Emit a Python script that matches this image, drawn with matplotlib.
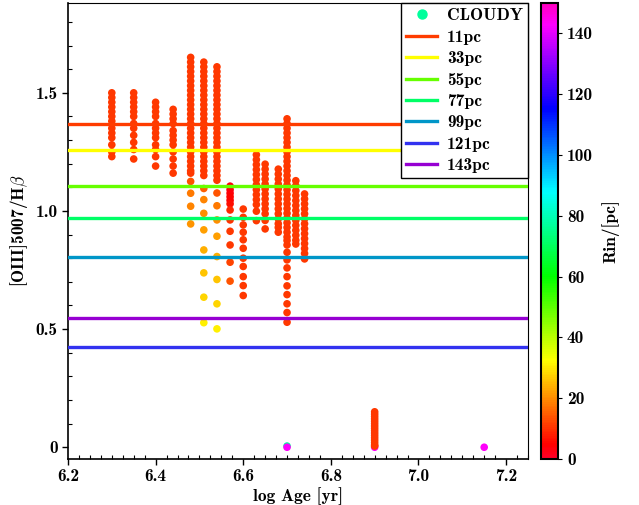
import matplotlib
matplotlib.use("Agg")
import matplotlib.pyplot as plt
from matplotlib.lines import Line2D
from matplotlib.ticker import MultipleLocator, FixedLocator, FixedFormatter
import numpy as np

plt.rcParams['font.family'] = ['cmb10', 'DejaVu Serif']
plt.rcParams['mathtext.fontset'] = 'cm'
plt.rcParams['axes.unicode_minus'] = False

# model columns: log age, [OIII]/Hb ratio, Rin (pc)
age_630_y = [1.50, 1.48, 1.46, 1.44, 1.42, 1.40, 1.38, 1.35, 1.33, 1.31, 1.28, 1.25, 1.23]
age_635_y = [1.50, 1.48, 1.46, 1.44, 1.42, 1.40, 1.37, 1.35, 1.32, 1.29, 1.26, 1.22]
age_640_y = [1.46, 1.44, 1.42, 1.40, 1.37, 1.35, 1.33, 1.31, 1.28, 1.26, 1.23, 1.19]
age_644_y = [1.43, 1.41, 1.39, 1.37, 1.34, 1.32, 1.30, 1.28, 1.25, 1.22, 1.19, 1.16]
age_648_y = [1.65, 1.63, 1.61, 1.59, 1.57, 1.55, 1.53, 1.51, 1.49, 1.47, 1.45, 1.43, 1.41,
             1.39, 1.37, 1.35, 1.33, 1.31, 1.29, 1.27, 1.25, 1.23, 1.21, 1.19, 1.17, 1.16,
             1.125, 1.075, 1.02, 0.945]
age_648_r = [11] * 26 + [14, 18, 19, 21]
age_651_y = [1.63, 1.61, 1.59, 1.57, 1.55, 1.53, 1.51, 1.49, 1.47, 1.45, 1.43, 1.41, 1.39,
             1.37, 1.35, 1.33, 1.31, 1.29, 1.27, 1.25, 1.23, 1.21, 1.19, 1.17, 1.15,
             1.095, 1.048, 0.99, 0.92, 0.835, 0.738, 0.635, 0.527]
age_651_r = [11] * 25 + [15, 19, 20, 22, 24, 26, 28, 31]
age_654_y = [1.61, 1.59, 1.57, 1.55, 1.53, 1.51, 1.49, 1.47, 1.45, 1.43, 1.41, 1.39, 1.37,
             1.35, 1.33, 1.31, 1.29, 1.27, 1.25, 1.23, 1.21, 1.19, 1.17, 1.15, 1.13,
             1.076, 1.022, 0.962, 0.893, 0.807, 0.71, 0.607, 0.501]
age_654_r = [11] * 25 + [14, 18, 20, 22, 24, 26, 28, 31]
age_657_y = [1.105, 1.09, 1.075, 1.06, 1.045, 1.03, 1.004, 0.962, 0.914, 0.856, 0.783, 0.703]
age_657_r = [4, 4, 4, 5, 5, 6, 9, 10, 11, 11, 12, 14]
age_660_y = [1.008, 0.973, 0.941, 0.91, 0.878, 0.842, 0.80, 0.765, 0.722, 0.684, 0.642]
age_663_y = [1.238, 1.217, 1.196, 1.175, 1.154, 1.133, 1.111, 1.090, 1.069, 1.048, 1.027, 0.999, 0.959]
age_665_y = [1.198, 1.177, 1.156, 1.135, 1.114, 1.093, 1.072, 1.051, 1.030, 1.009, 0.988, 0.96, 0.924]
age_668_y = [1.177, 1.156, 1.135, 1.114, 1.093, 1.072, 1.051, 1.030, 1.009, 0.988, 0.967, 0.946, 0.93, 0.91]
age_670_y = [1.39, 1.37, 1.35, 1.33, 1.31, 1.29, 1.27, 1.25, 1.23, 1.21, 1.19, 1.17, 1.15,
             1.13, 1.11, 1.09, 1.07, 1.05, 1.03, 1.01, 0.99, 0.97, 0.95, 0.93, 0.91, 0.89,
             0.875, 0.856, 0.825, 0.793, 0.759, 0.722, 0.683, 0.646, 0.607, 0.570, 0.529]
age_672_y = [1.128, 1.107, 1.086, 1.065, 1.044, 1.023, 1.002, 0.981, 0.96, 0.939, 0.918, 0.897, 0.876, 0.86]
age_674_y = [1.072, 1.051, 1.030, 1.009, 0.988, 0.967, 0.946, 0.925, 0.904, 0.883, 0.862, 0.841, 0.82, 0.797]

columns = [
    (6.30, age_630_y, [11] * len(age_630_y)),
    (6.35, age_635_y, [11] * len(age_635_y)),
    (6.40, age_640_y, [11] * len(age_640_y)),
    (6.44, age_644_y, [11] * len(age_644_y)),
    (6.48, age_648_y, age_648_r),
    (6.51, age_651_y, age_651_r),
    (6.54, age_654_y, age_654_r),
    (6.57, age_657_y, age_657_r),
    (6.60, age_660_y, [11] * len(age_660_y)),
    (6.63, age_663_y, [11] * len(age_663_y)),
    (6.65, age_665_y, [11] * len(age_665_y)),
    (6.68, age_668_y, [11] * len(age_668_y)),
    (6.70, age_670_y, [11] * len(age_670_y)),
    (6.72, age_672_y, [11] * len(age_672_y)),
    (6.74, age_674_y, [11] * len(age_674_y)),
]

# points near zero
zero_x = [6.70, 6.70, 6.90, 7.15]
zero_y = [0.005, 0.0, 0.0, 0.0]
zero_r = [77, 143, 143, 143]
age_690_y = [0.15, 0.14, 0.13, 0.12, 0.11, 0.10, 0.09, 0.08, 0.07, 0.06, 0.05, 0.04,
             0.03, 0.02, 0.01, 0.005]

# observed ratios for different Rin
obs_labels = ['11pc', '33pc', '55pc', '77pc', '99pc', '121pc', '143pc']
obs_values = [1.37, 1.26, 1.105, 0.97, 0.805, 0.425, 0.545]
obs_colors = ['#ff3c00', '#ffff00', '#66ff00', '#00ff66', '#0096c8', '#3232f0', '#9600d2']

cmap = plt.cm.gist_rainbow
vmin, vmax = 0, 150

fig = plt.figure(figsize=(6.39, 5.05), dpi=100)
ax = fig.add_axes([0.1064, 0.091, 0.7199, 0.903])
cax = fig.add_axes([0.8466, 0.091, 0.0266, 0.903])

ms = 30
for x, ys, rs in columns:
    ax.scatter([x] * len(ys), ys, c=rs, cmap=cmap, vmin=vmin, vmax=vmax,
               s=ms, edgecolors='none', zorder=2)
ax.scatter(zero_x, zero_y, c=zero_r, cmap=cmap, vmin=vmin, vmax=vmax, s=ms,
           edgecolors='none', zorder=2)
ax.scatter([6.90] * len(age_690_y), age_690_y, c=[11] * len(age_690_y), cmap=cmap,
           vmin=vmin, vmax=vmax, s=ms, edgecolors='none', zorder=2)

for val, col in zip(obs_values, obs_colors):
    ax.axhline(val, color=col, lw=2.4, zorder=3)

fs = 12.5
ax.set_xlim(6.2, 7.25)
ax.set_ylim(-0.05, 1.88)
ax.xaxis.set_major_locator(MultipleLocator(0.2))
ax.xaxis.set_minor_locator(MultipleLocator(0.025))
ax.yaxis.set_major_locator(FixedLocator([0, 0.5, 1.0, 1.5]))
ax.yaxis.set_major_formatter(FixedFormatter(['0', '0.5', '1.0', '1.5']))
ax.yaxis.set_minor_locator(MultipleLocator(0.1))
ax.tick_params(which='major', direction='out', length=4, width=1, labelsize=fs)
ax.tick_params(which='minor', direction='in', length=3, width=0.8)

ax.spines['left'].set_linewidth(1.2)
ax.spines['bottom'].set_linewidth(1.2)
ax.spines['top'].set_linewidth(0.8)
ax.spines['right'].set_linewidth(0.8)

ax.set_xlabel('log Age [yr]', fontsize=fs, labelpad=2)
ax.set_ylabel(r'[OIII]5007/H$\beta$', fontsize=fs, labelpad=4)

handles = [Line2D([], [], marker='o', ls='none', color=cmap(77 / 150), markersize=6.5)]
for col in obs_colors:
    handles.append(Line2D([], [], color=col, lw=2.4))
leg = ax.legend(handles, ['CLOUDY'] + obs_labels, loc='upper right', borderaxespad=0,
                fancybox=False, framealpha=1, edgecolor='black', fontsize=fs,
                handlelength=1.8, labelspacing=0.36, handletextpad=0.55, borderpad=0.3)
leg.get_frame().set_linewidth(1.0)
leg.set_zorder(5)

cb = fig.colorbar(plt.cm.ScalarMappable(norm=plt.Normalize(vmin, vmax), cmap=cmap), cax=cax)
cb.set_ticks([0, 20, 40, 60, 80, 100, 120, 140])
cb.ax.tick_params(labelsize=fs, length=3, direction='out')
cb.outline.set_linewidth(1.5)
cb.set_label('Rin/[pc]', fontsize=fs, labelpad=6)

fig.savefig('out.png', dpi=100)
